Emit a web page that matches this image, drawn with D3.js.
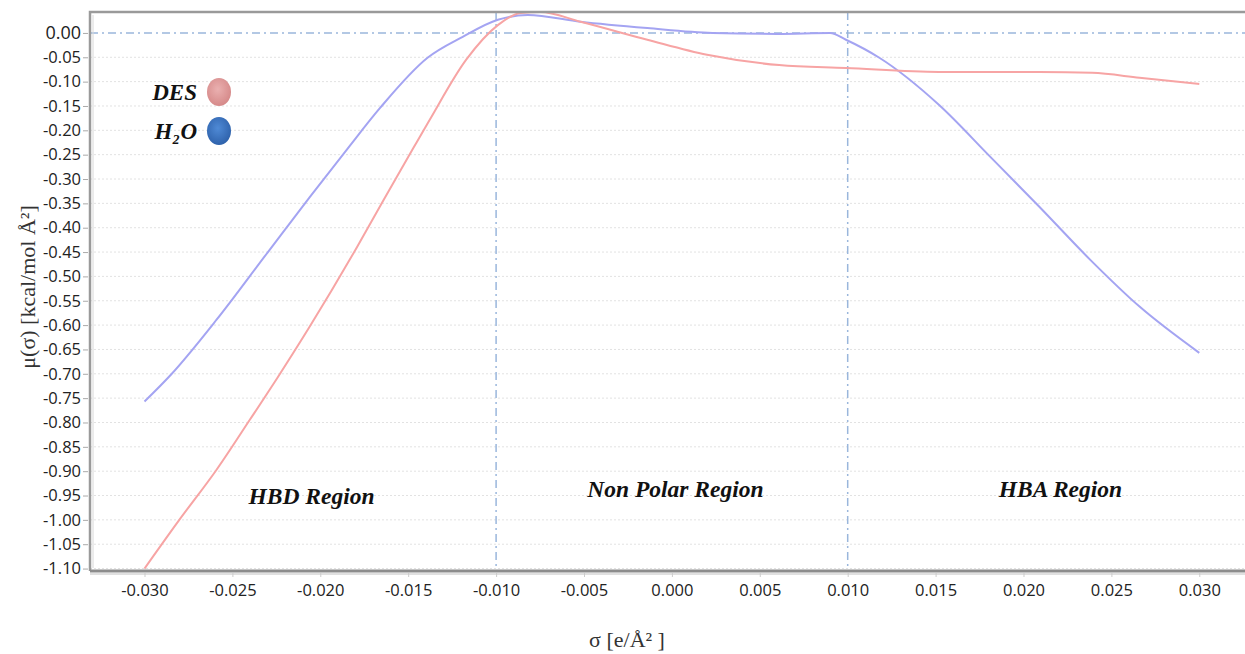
<!DOCTYPE html>
<html>
<head>
<meta charset="utf-8">
<script src="https://cdn.jsdelivr.net/npm/d3@7"></script>
<style>
  body { margin: 0; background: #ffffff; }
  svg { display: block; }
</style>
</head>
<body>
<svg id="chart" width="1245" height="654"></svg>
<script>
// sigma profile potential
const sigmaH2O = [-0.0300, -0.0285, -0.0259, -0.0230, -0.0206, -0.0185, -0.0166, -0.0139, -0.0119, -0.0099,
  -0.0082, -0.0052, -0.0014, 0.0023, 0.0060, 0.0090, 0.0099, 0.0118, 0.0152, 0.0181, 0.0209, 0.0238, 0.0266, 0.0300];
const muH2O = [-0.757, -0.702, -0.589, -0.451, -0.337, -0.240, -0.154, -0.051, -0.008, 0.027,
  0.037, 0.023, 0.010, 0.000, -0.002, 0.000, -0.014, -0.051, -0.148, -0.254, -0.357, -0.466, -0.562, -0.657];

const sigmaDES = [-0.0300, -0.0280, -0.0259, -0.0240, -0.0224, -0.0206, -0.0179, -0.0164, -0.0147, -0.0138,
  -0.0117, -0.0099, -0.0086, -0.0075, -0.0052, -0.0014, 0.0020, 0.0061, 0.0099, 0.0152, 0.0209, 0.0239, 0.0266, 0.0300];
const muDES = [-1.100, -0.999, -0.897, -0.794, -0.706, -0.603, -0.439, -0.343, -0.236, -0.180,
  -0.055, 0.016, 0.041, 0.043, 0.023, -0.014, -0.045, -0.066, -0.072, -0.080, -0.080, -0.082, -0.092, -0.105];

const xTicks = [-0.030, -0.025, -0.020, -0.015, -0.010, -0.005, 0.000, 0.005, 0.010, 0.015, 0.020, 0.025, 0.030];
const yTicks = d3.range(0, 23).map((i) => -i * 0.05);
const regionBounds = [-0.010, 0.010];
const regionLabels = ["HBD Region", "Non Polar Region", "HBA Region"];
const regionCenters = [-0.0205, 0.0002, 0.0221];
const legendNames = ["DES", "H₂O"];

const svg = d3.select("#chart");
const plotLeft = 90, plotRight = 1245, plotTop = 12, plotBottom = 571;
const serif = "'Liberation Serif', 'DejaVu Serif', serif";
const sans = "'Open Sans', 'Noto Sans', sans-serif";

const x = d3.scaleLinear().domain([-0.0331, 0.0326]).range([plotLeft, plotRight]);
const y = d3.scaleLinear().domain([0.043, -1.105]).range([plotTop, plotBottom]);

// grid
const grid = svg.append("g");
yTicks.filter((t) => Math.abs(t) > 1e-9).forEach((t) => {
  grid.append("line")
    .attr("x1", plotLeft).attr("x2", plotRight)
    .attr("y1", y(t)).attr("y2", y(t))
    .attr("stroke", "#e2e2e2")
    .attr("stroke-width", 1)
    .attr("stroke-dasharray", "2,2");
});

// zero line and region separators (dash-dot)
grid.append("line")
  .attr("x1", plotLeft).attr("x2", plotRight)
  .attr("y1", y(0)).attr("y2", y(0))
  .attr("stroke", "#9ab6dc")
  .attr("stroke-width", 1.5)
  .attr("stroke-dasharray", "8,4,2,4");

regionBounds.forEach((b) => {
  grid.append("line")
    .attr("x1", x(b)).attr("x2", x(b))
    .attr("y1", plotTop).attr("y2", plotBottom)
    .attr("stroke", "#9ab6dc")
    .attr("stroke-width", 1.5)
    .attr("stroke-dasharray", "8,4,2,4");
});

// curves
const line = d3.line()
  .x((d) => x(d[0]))
  .y((d) => y(d[1]))
  .curve(d3.curveMonotoneX);

svg.append("path")
  .datum(d3.zip(sigmaH2O, muH2O))
  .attr("d", line)
  .attr("fill", "none")
  .attr("stroke", "#a4a4f2")
  .attr("stroke-width", 2);

svg.append("path")
  .datum(d3.zip(sigmaDES, muDES))
  .attr("d", line)
  .attr("fill", "none")
  .attr("stroke", "#f7a4a4")
  .attr("stroke-width", 2);

// frame
const frame = svg.append("g");
frame.append("path")
  .attr("d", `M${plotLeft},${plotBottom}V${plotTop}H${plotRight}`)
  .attr("fill", "none")
  .attr("stroke", "#9a9a9a")
  .attr("stroke-width", 2.5);
frame.append("path")
  .attr("d", `M${plotLeft + 3},${plotBottom - 3}V${plotTop + 3}`)
  .attr("fill", "none")
  .attr("stroke", "#d8d8d8")
  .attr("stroke-width", 1);
frame.append("line")
  .attr("x1", plotLeft).attr("x2", plotRight)
  .attr("y1", plotBottom).attr("y2", plotBottom)
  .attr("stroke", "#8c8c8c")
  .attr("stroke-width", 3);
frame.append("line")
  .attr("x1", plotLeft).attr("x2", plotRight)
  .attr("y1", plotBottom + 3).attr("y2", plotBottom + 3)
  .attr("stroke", "#d6d6d6")
  .attr("stroke-width", 1.5);

// y axis
const yAxis = d3.axisLeft(y)
  .tickValues(yTicks)
  .tickSize(5)
  .tickPadding(2)
  .tickFormat((d) => d3.format(".2f")(Math.abs(d) < 1e-9 ? 0 : d).replace("−", "-"));
const gy = svg.append("g")
  .attr("transform", `translate(${plotLeft - 2},0)`)
  .call(yAxis);
gy.select(".domain").remove();
gy.selectAll(".tick line").attr("stroke", "#aaaaaa");
gy.selectAll(".tick text")
  .attr("fill", "#222")
  .attr("font-family", sans)
  .attr("font-size", 16.5);
gy.selectAll(".tick").filter((d) => Math.abs(d) < 1e-9).select("text")
  .attr("font-size", 18);

// x axis
const xAxis = d3.axisBottom(x)
  .tickValues(xTicks)
  .tickSize(4)
  .tickPadding(7)
  .tickFormat((d) => d3.format(".3f")(Math.abs(d) < 1e-9 ? 0 : d).replace("−", "-"));
const gx = svg.append("g")
  .attr("transform", `translate(0,${plotBottom + 2})`)
  .call(xAxis);
gx.select(".domain").remove();
gx.selectAll(".tick line").attr("stroke", "#cccccc");
gx.selectAll(".tick text")
  .attr("fill", "#222")
  .attr("font-family", sans)
  .attr("font-size", 16.5);

// axis titles
svg.append("text")
  .attr("transform", `translate(35,287) rotate(-90)`)
  .attr("text-anchor", "middle")
  .attr("font-family", serif)
  .attr("font-size", 22)
  .attr("fill", "#333")
  .text("μ(σ) [kcal/mol Å²]");

svg.append("text")
  .attr("x", 627)
  .attr("y", 647)
  .attr("text-anchor", "middle")
  .attr("font-family", serif)
  .attr("font-size", 22)
  .attr("fill", "#333")
  .text("σ [e/Å² ]");

// region labels
regionLabels.forEach((label, i) => {
  svg.append("text")
    .attr("x", x(regionCenters[i]))
    .attr("y", i === 0 ? 504 : 497)
    .attr("text-anchor", "middle")
    .attr("font-family", serif)
    .attr("font-weight", "bold")
    .attr("font-style", "italic")
    .attr("font-size", 23.5)
    .attr("fill", "#111")
    .text(label);
});

// legend
const defs = svg.append("defs");
const legendColors = [["#eab0b0", "#d48686"], ["#4f8ad6", "#2c5fa8"]];
legendColors.forEach((c, i) => {
  const g = defs.append("radialGradient")
    .attr("id", "lg" + i)
    .attr("cx", "45%").attr("cy", "40%").attr("r", "65%");
  g.append("stop").attr("offset", "0%").attr("stop-color", c[0]);
  g.append("stop").attr("offset", "100%").attr("stop-color", c[1]);
});

legendNames.forEach((name, i) => {
  const cy = 92 + i * 39;
  svg.append("ellipse")
    .attr("cx", 219).attr("cy", cy)
    .attr("rx", 12).attr("ry", 14)
    .attr("fill", "url(#lg" + i + ")");
  svg.append("text")
    .attr("x", 197)
    .attr("y", cy + 8)
    .attr("text-anchor", "end")
    .attr("font-family", serif)
    .attr("font-weight", "bold")
    .attr("font-style", "italic")
    .attr("font-size", 23)
    .attr("fill", "#111")
    .text(name);
});
</script>
</body>
</html>
